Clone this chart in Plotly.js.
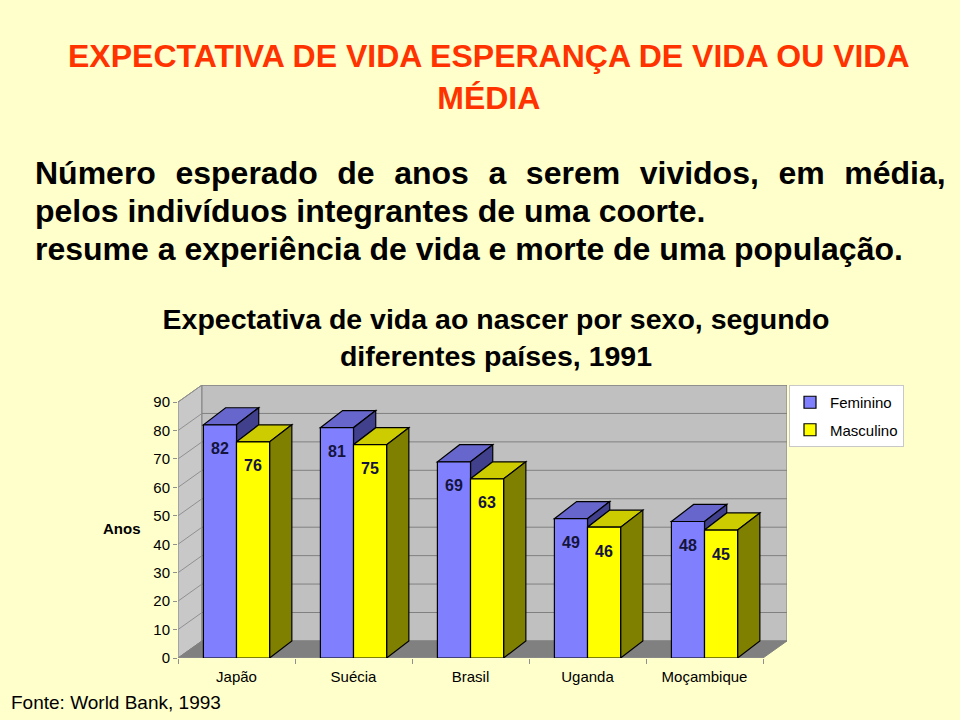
<!DOCTYPE html>
<html>
<head>
<meta charset="utf-8">
<script src="https://cdn.plot.ly/plotly-3.0.1.min.js"></script>
<style>html,body{margin:0;padding:0;background:#FFFFCC;}</style>
</head>
<body>
<div id="chart" style="width:960px;height:720px;"></div>
<script>
// ---- data ----
const categories = ['Japão', 'Suécia', 'Brasil', 'Uganda', 'Moçambique'];
const feminino = [82, 81, 69, 49, 48];
const masculino = [76, 75, 63, 46, 45];
const yTickVals = [0, 10, 20, 30, 40, 50, 60, 70, 80, 90];
const seriesNames = ['Feminino', 'Masculino'];

// ---- style / geometry ----
const FONT = 'Liberation Sans, Arial, sans-serif';
const BARGAP = 0.434;
const BARW = (1 - BARGAP) / 2;
const BDX = 0.19, BDY = 6;     // bar depth (x units, y units)
const WDX = 0.205, WDY = 6;    // wall depth
const N = categories.length;
const XMIN = -0.5, XMAX = N - 0.5 + WDX;
const YMAX = 90;

const xIdx = categories.map((c, i) => i);

function poly(pts) {
  return 'M ' + pts.map(p => p[0] + ',' + p[1]).join(' L ') + ' Z';
}

const shapes = [];
// left wall
shapes.push({type: 'path', xref: 'x', yref: 'y', layer: 'below',
  path: poly([[XMIN, 0], [XMIN, YMAX], [XMIN + WDX, YMAX + WDY], [XMIN + WDX, WDY]]),
  fillcolor: '#C8C8C8', line: {color: '#808080', width: 1}});
// back wall
shapes.push({type: 'path', xref: 'x', yref: 'y', layer: 'below',
  path: poly([[XMIN + WDX, WDY], [XMIN + WDX, YMAX + WDY], [N - 0.5 + WDX, YMAX + WDY], [N - 0.5 + WDX, WDY]]),
  fillcolor: '#C0C0C0', line: {color: '#808080', width: 1}});
// floor
shapes.push({type: 'path', xref: 'x', yref: 'y', layer: 'below',
  path: poly([[XMIN, 0], [N - 0.5, 0], [N - 0.5 + WDX, WDY], [XMIN + WDX, WDY]]),
  fillcolor: '#808080', line: {color: '#808080', width: 1}});
// gridlines
yTickVals.forEach(v => {
  if (v === 0) return;
  shapes.push({type: 'line', xref: 'x', yref: 'y', layer: 'below',
    x0: XMIN + WDX, x1: N - 0.5 + WDX, y0: v + WDY, y1: v + WDY,
    line: {color: '#808080', width: 1}});
  shapes.push({type: 'line', xref: 'x', yref: 'y', layer: 'below',
    x0: XMIN, x1: XMIN + WDX, y0: v, y1: v + WDY,
    line: {color: '#909090', width: 1}});
});
// front floor edge
shapes.push({type: 'line', xref: 'x', yref: 'y', layer: 'below',
  x0: XMIN, x1: N - 0.5, y0: 0, y1: 0, line: {color: '#909090', width: 1}});

// 3D faces for bars
const edge = {color: '#000000', width: 1.2};
xIdx.forEach(i => {
  const f = feminino[i], m = masculino[i];
  const x0 = i - BARW, x1 = i, x2 = i + BARW;
  // feminine top
  shapes.push({type: 'path', xref: 'x', yref: 'y', layer: 'below',
    path: poly([[x0, f], [x1, f], [x1 + BDX, f + BDY], [x0 + BDX, f + BDY]]),
    fillcolor: '#6666CC', line: edge});
  // feminine side (visible part above masculine top)
  shapes.push({type: 'path', xref: 'x', yref: 'y', layer: 'below',
    path: poly([[x1, m], [x1 + BDX, m + BDY], [x1 + BDX, f + BDY], [x1, f]]),
    fillcolor: '#40408C', line: edge});
  // masculine top
  shapes.push({type: 'path', xref: 'x', yref: 'y', layer: 'below',
    path: poly([[x1, m], [x2, m], [x2 + BDX, m + BDY], [x1 + BDX, m + BDY]]),
    fillcolor: '#CCCC00', line: edge});
  // masculine side
  shapes.push({type: 'path', xref: 'x', yref: 'y', layer: 'below',
    path: poly([[x2, 0], [x2 + BDX, BDY], [x2 + BDX, m + BDY], [x2, m]]),
    fillcolor: '#808000', line: edge});
});

// layout pixel geometry for paper conversions
const L = 178, R = 173, T = 385, B = 62;
const PW = 960 - L - R, PH = 720 - T - B;
const px = x => (x - L) / PW;
const py = y => (720 - B - y) / PH;

const annotations = [];
// value labels
xIdx.forEach(i => {
  annotations.push({x: i - BARW / 2, y: feminino[i], xref: 'x', yref: 'y', yshift: -24,
    text: String(feminino[i]), showarrow: false,
    font: {family: FONT, size: 16, color: '#14143C', weight: 'bold'}});
  annotations.push({x: i + BARW / 2, y: masculino[i], xref: 'x', yref: 'y', yshift: -24,
    text: String(masculino[i]), showarrow: false,
    font: {family: FONT, size: 16, color: '#14143C', weight: 'bold'}});
});
// slide header
annotations.push({xref: 'paper', yref: 'paper', x: px(489), y: py(76.5), xanchor: 'center', yanchor: 'middle',
  text: 'EXPECTATIVA DE VIDA ESPERANÇA DE VIDA OU VIDA<br>MÉDIA', showarrow: false, align: 'center',
  font: {family: FONT, size: 32, color: '#FF3300', weight: 'bold'}});
// body text
const sp = ' \u2004';
const bodyLines = [
  ['Número', 'esperado', 'de', 'anos', 'a', 'serem', 'vividos,', 'em', 'média,'].join(sp),
  'pelos indivíduos integrantes de uma coorte.',
  'resume a experiência de vida e morte de uma população.'
];
const bodyY = [173, 211, 249];
bodyLines.forEach((t, k) => {
  annotations.push({xref: 'paper', yref: 'paper', x: px(33), y: py(bodyY[k]), xanchor: 'left', yanchor: 'middle',
    text: t, showarrow: false, font: {family: FONT, size: 32, color: '#000000', weight: 'bold'}});
});
// y label
annotations.push({xref: 'paper', yref: 'paper', x: px(122), y: py(528), xanchor: 'center', yanchor: 'middle',
  text: 'Anos', showarrow: false, font: {family: FONT, size: 15, color: '#000000', weight: 'bold'}});
// source
annotations.push({xref: 'paper', yref: 'paper', x: px(9), y: py(702), xanchor: 'left', yanchor: 'middle',
  text: 'Fonte: World Bank, 1993', showarrow: false, font: {family: FONT, size: 19, color: '#000000'}});

const traces = [
  {type: 'bar', name: seriesNames[0], x: xIdx, y: feminino, legendgroup: 'f',
   marker: {color: '#8080FF', line: {color: '#000000', width: 1.2}}, hoverinfo: 'skip'},
  {type: 'bar', name: seriesNames[1], x: xIdx, y: masculino, legendgroup: 'm',
   marker: {color: '#FFFF00', line: {color: '#000000', width: 1.2}}, hoverinfo: 'skip'}
];

const layout = {
  width: 960, height: 720,
  paper_bgcolor: '#FFFFCC', plot_bgcolor: 'rgba(0,0,0,0)',
  margin: {l: L, r: R, t: T, b: B, pad: 0},
  barmode: 'group', bargap: BARGAP, bargroupgap: 0,
  font: {family: FONT, color: '#000000'},
  title: {text: 'Expectativa de vida ao nascer por sexo, segundo<br>diferentes países, 1991',
    xref: 'paper', x: px(496), xanchor: 'center', yref: 'container', y: 1 - 329 / 720, yanchor: 'middle',
    font: {family: FONT, size: 28.5, color: '#000000', weight: 'bold'}},
  xaxis: {range: [XMIN, XMAX], tickmode: 'array', tickvals: xIdx, ticktext: categories,
    showgrid: false, zeroline: false, showline: false, ticks: '', ticklabelstandoff: 8,
    tickfont: {family: FONT, size: 15, color: '#000000'},
    minor: {tickmode: 'array', tickvals: [-0.5, 0.5, 1.5, 2.5, 3.5, 4.5], ticks: 'outside', ticklen: 5, tickcolor: '#909090', showgrid: false},
    fixedrange: true},
  yaxis: {range: [0, 96], tickmode: 'array', tickvals: yTickVals, ticktext: yTickVals.map(String),
    showgrid: false, zeroline: false, showline: false, ticks: 'outside', ticklen: 4, tickcolor: '#909090',
    tickfont: {family: FONT, size: 15, color: '#000000'}, fixedrange: true},
  legend: {x: px(789), y: py(385), xanchor: 'left', yanchor: 'top', bgcolor: '#FFFFFF',
    bordercolor: '#C8C8C8', borderwidth: 1, font: {family: FONT, size: 15, color: '#000000'},
    traceorder: 'grouped', tracegroupgap: 5, itemwidth: 30},
  shapes: shapes,
  annotations: annotations,
  showlegend: true
};

Plotly.newPlot('chart', traces, layout, {displayModeBar: false, staticPlot: true});
</script>
</body>
</html>
